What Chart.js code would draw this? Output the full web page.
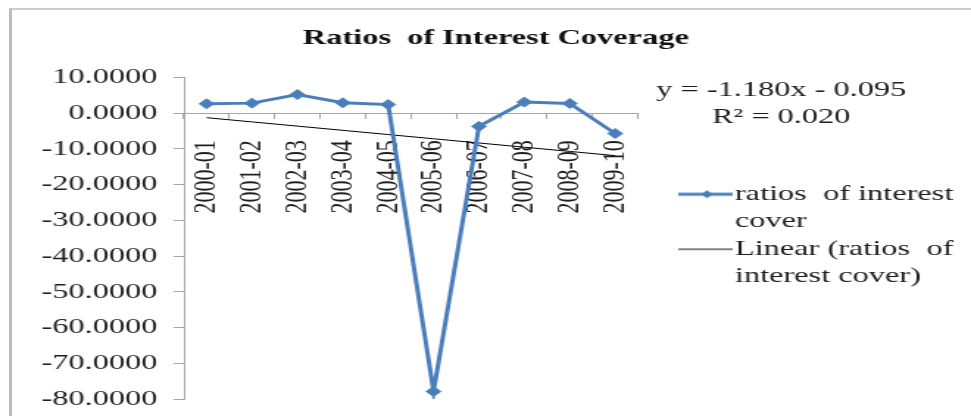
<!DOCTYPE html>
<html>
<head>
<meta charset="utf-8">
<script src="https://cdn.jsdelivr.net/npm/chart.js@4/dist/chart.umd.min.js"></script>
<style>
    html, body { margin: 0; padding: 0; background: #fff; overflow: hidden; }
    #frame { position: absolute; left: 9px; top: 8px; width: 1000px; height: 450px;
             border-left: 3px solid #bdbdbd; border-top: 2px solid #cccccc; }
    /* the source picture is stretched sideways, so the chart is drawn narrow and widened */
    #wrap { position: absolute; left: 0; top: 0; width: 660px; height: 416px;
            transform: scaleX(1.4712); transform-origin: 0 0; }
    #coverChart { display: block; width: 660px; height: 416px; }
</style>
</head>
<body>
<div id="frame"></div>
<div id="wrap"><canvas id="coverChart" width="660" height="416"></canvas></div>
<script>
var categories = ["2000-01", "2001-02", "2002-03", "2003-04", "2004-05", "2005-06", "2006-07", "2007-08", "2008-09", "2009-10"];
var ratiosOfInterestCover = [2.6, 2.8, 5.2, 2.9, 2.4, -77.9, -3.7, 3.1, 2.7, -5.7];
var yMin = -80, yMax = 10, yStep = 10;
// trendline as printed on the chart
var trendSlope = -1.180, trendIntercept = -0.095;
var trendText = ["y = -1.180x - 0.095", "R\u00B2 = 0.020"];
var legendLines = [["ratios  of interest", "cover"], ["Linear (ratios  of", "interest cover)"]];

var blue = "#4a7ebb";
var axisGray = "#a6a6a6";
var serif = "'Liberation Serif', 'Times New Roman', serif";
Chart.defaults.font.family = serif;
Chart.defaults.font.size = 22;
Chart.defaults.color = "#1e1e1e";

var trendValues = categories.map(function(c, i) {
    return trendSlope * (i + 1) + trendIntercept;
});

// legend icons: line (and marker) drawn to the right of the icon centre
function legendIcon(color, width, marker) {
    var c = document.createElement('canvas');
    c.width = 74;
    c.height = 12;
    var g = c.getContext('2d');
    g.strokeStyle = color;
    g.lineWidth = width;
    g.beginPath();
    g.moveTo(37, 6);
    g.lineTo(74, 6);
    g.stroke();
    if (marker) {
        g.fillStyle = color;
        g.beginPath();
        g.moveTo(56.5, 2);
        g.lineTo(60.5, 6);
        g.lineTo(56.5, 10);
        g.lineTo(52.5, 6);
        g.closePath();
        g.fill();
    }
    return c;
}
var legendIcons = [legendIcon(blue, 3, true), legendIcon("#000", 1, false)];

var equationText = {
    id: 'equationText',
    afterDraw: function(chart) {
        var ctx = chart.ctx;
        ctx.save();
        ctx.font = "22px " + serif;
        ctx.fillStyle = "#1e1e1e";
        ctx.textAlign = 'center';
        ctx.textBaseline = 'middle';
        ctx.fillText(trendText[0], 531, 90);
        ctx.fillText(trendText[1], 531, 117);
        ctx.restore();
    }
};

function drawChart() {
    var ctx = document.getElementById('coverChart').getContext('2d');
    var chart = new Chart(ctx, {
        type: 'line',
        data: {
            labels: categories,
            datasets: [{
                label: "ratios  of interest cover",
                data: ratiosOfInterestCover,
                borderColor: blue,
                backgroundColor: blue,
                borderWidth: 3,
                tension: 0,
                pointStyle: 'rectRot',
                pointRadius: 5,
                pointBorderWidth: 1
            }, {
                label: "Linear (ratios  of interest cover)",
                data: trendValues,
                borderColor: "#000",
                backgroundColor: "#000",
                borderWidth: 1,
                tension: 0,
                pointRadius: 0
            }]
        },
        options: {
            responsive: false,
            animation: false,
            devicePixelRatio: 1,
            layout: { padding: { left: 16, right: 2, top: 0, bottom: 17 } },
            scales: {
                x: {
                    position: { y: 0 },
                    offset: true,
                    grid: { offset: true, drawOnChartArea: false, tickLength: 5, color: axisGray },
                    border: { color: axisGray, width: 1 },
                    ticks: { autoSkip: false, minRotation: 90, maxRotation: 90, padding: 22, font: { size: 22 } }
                },
                y: {
                    min: yMin,
                    max: yMax,
                    afterFit: function(scale) {
                        scale.width = 109;
                        scale.paddingTop = 12;
                        scale.paddingBottom = 12;
                    },
                    grid: { drawOnChartArea: false, tickLength: 7, color: axisGray },
                    border: { color: axisGray, width: 1 },
                    ticks: {
                        stepSize: yStep,
                        padding: 11,
                        font: { size: 22 },
                        callback: function(value) { return value.toFixed(4); }
                    }
                }
            },
            plugins: {
                title: {
                    display: true,
                    text: "Ratios  of Interest Coverage",
                    color: "#111",
                    font: { size: 22, weight: 'bold' },
                    padding: { top: 25, bottom: 26 }
                },
                legend: {
                    position: 'right',
                    fullSize: false,
                    maxWidth: 260,
                    labels: {
                        usePointStyle: true,
                        pointStyleWidth: 55,
                        padding: 0,
                        color: "#1e1e1e",
                        font: { size: 22, lineHeight: 1.25 },
                        generateLabels: function(chart) {
                            var items = Chart.defaults.plugins.legend.labels.generateLabels(chart);
                            items.forEach(function(item, i) {
                                item.text = legendLines[i];
                                item.pointStyle = legendIcons[i];
                            });
                            return items;
                        }
                    }
                },
                tooltip: { enabled: false }
            }
        },
        plugins: [equationText]
    });
}

Promise.all([
    document.fonts.load("22px 'Liberation Serif'"),
    document.fonts.load("bold 22px 'Liberation Serif'")
]).then(drawChart, drawChart);
</script>
</body>
</html>
